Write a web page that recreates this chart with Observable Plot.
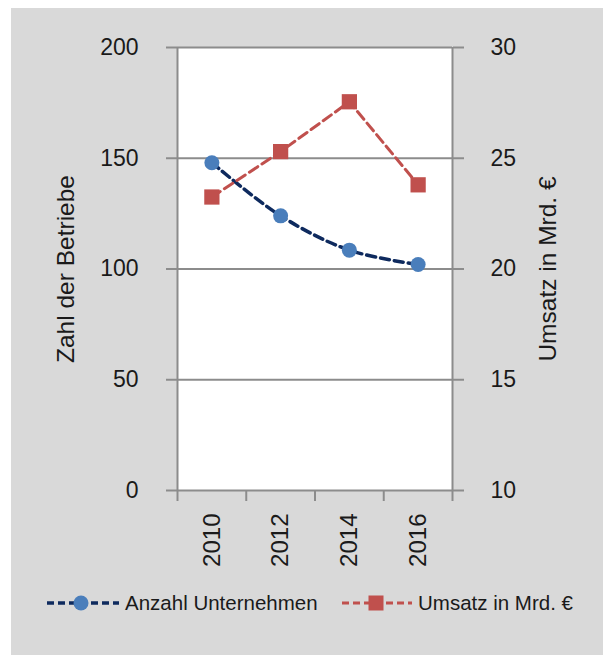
<!DOCTYPE html>
<html>
<head>
<meta charset="utf-8">
<script src="https://cdn.jsdelivr.net/npm/d3@7"></script>
<script src="https://cdn.jsdelivr.net/npm/@observablehq/plot@0.6"></script>
<style>
  html, body { margin: 0; padding: 0; background: #ffffff; }
  body { width: 603px; height: 655px; position: relative; overflow: hidden;
         font-family: "Liberation Sans", Arial, sans-serif; }
  #frame { position: absolute; left: 11px; top: 8px; width: 592px; height: 647px; background: #d9d9d9; }
  #chart { position: absolute; left: 0; top: 0; }
  .leg { position: absolute; top: 580px; height: 30px; display: flex; align-items: center;
         font-size: 20.5px; color: #1a1a1a; white-space: nowrap; }
  .leg svg { display: block; margin-right: 6px; }
</style>
</head>
<body>
<div id="frame">
  <div id="chart"></div>
  <div class="leg" id="leg1" style="left:36px;"></div>
  <div class="leg" id="leg2" style="left:331px;"></div>
</div>
<script>
// ---- data ----
const years = [2010, 2012, 2014, 2016];
const anzahl = [148, 124, 108.5, 102];
const umsatz = [23.25, 25.3, 27.55, 23.8];
const leftTicks = [0, 50, 100, 150, 200];
const rightTicks = [10, 15, 20, 25, 30];
const bandEdges = [2009, 2011, 2013, 2015, 2017];
const seriesNames = ["Anzahl Unternehmen", "Umsatz in Mrd. €"];
const axisTitles = ["Zahl der Betriebe", "Umsatz in Mrd. €"];

const rows = years.map((y, i) => ({year: y, anzahl: anzahl[i], umsatz: umsatz[i]}));
// map right-axis values (10..30) onto the left scale (0..200)
const toLeft = v => (v - 10) * 10;
const fromLeft = v => v / 10 + 10;

const gray = "#8c8c8c";
const blueLine = "#0e2a5e";
const blueDot = "#4a7ebb";
const red = "#c0504d";

const chart = Plot.plot({
  width: 592,
  height: 570,
  marginLeft: 166,
  marginRight: 151,
  marginTop: 39,
  marginBottom: 88,
  style: {background: "none", fontFamily: "'Liberation Sans', Arial, sans-serif", color: "#1a1a1a", overflow: "visible"},
  x: {type: "linear", domain: [2009, 2017]},
  y: {type: "linear", domain: [0, 200]},
  marks: [
    Plot.frame({fill: "white", stroke: null}),
    Plot.ruleY(leftTicks, {stroke: gray, strokeWidth: 2}),
    Plot.ruleX([bandEdges[0], bandEdges[bandEdges.length - 1]], {stroke: gray, strokeWidth: 2}),
    Plot.axisY(leftTicks, {anchor: "left", tickSize: 11, tickPadding: 28, fontSize: 23, stroke: gray, strokeWidth: 2, label: null, tickFormat: d => String(d)}),
    Plot.axisY(rightTicks.map(toLeft), {anchor: "right", tickSize: 11, tickPadding: 27, fontSize: 23, stroke: gray, strokeWidth: 2, label: null, tickFormat: d => String(Math.round(fromLeft(d)))}),
    Plot.axisX(bandEdges, {anchor: "bottom", tickSize: 11, stroke: gray, strokeWidth: 2, label: null, tickFormat: () => ""}),
    Plot.axisX(years, {anchor: "bottom", tickSize: 0, tickPadding: 23, tickRotate: -90, fontSize: 24, label: null, tickFormat: d => String(d)}),
    Plot.text([axisTitles[0]], {frameAnchor: "left", textAnchor: "middle", dx: -111, rotate: -90, fontSize: 24.5, fill: "#1a1a1a"}),
    Plot.text([axisTitles[1]], {frameAnchor: "right", textAnchor: "middle", dx: 96, rotate: -90, fontSize: 24.5, fill: "#1a1a1a"}),
    Plot.line(rows, {x: "year", y: "anzahl", curve: "catmull-rom", stroke: blueLine, strokeWidth: 3.5, strokeDasharray: "9,5"}),
    Plot.line(rows, {x: "year", y: d => toLeft(d.umsatz), stroke: red, strokeWidth: 3, strokeDasharray: "10,5"}),
    Plot.dot(rows, {x: "year", y: "anzahl", r: 7.5, fill: blueDot, stroke: null}),
    Plot.dot(rows, {x: "year", y: d => toLeft(d.umsatz), symbol: "square", r: 8.6, fill: red, stroke: null})
  ]
});
document.getElementById("chart").appendChild(chart);

// legend
document.getElementById("leg1").innerHTML =
  `<svg width="72" height="20"><line x1="0" y1="10" x2="72" y2="10" stroke="${blueLine}" stroke-width="3.5" stroke-dasharray="7,4"/><circle cx="34" cy="10" r="7.5" fill="${blueDot}"/></svg><span>${seriesNames[0]}</span>`;
document.getElementById("leg2").innerHTML =
  `<svg width="70" height="20"><line x1="0" y1="10" x2="70" y2="10" stroke="${red}" stroke-width="3" stroke-dasharray="7,4"/><rect x="26.5" y="2.5" width="15" height="15" fill="${red}"/></svg><span>${seriesNames[1]}</span>`;
</script>
</body>
</html>
